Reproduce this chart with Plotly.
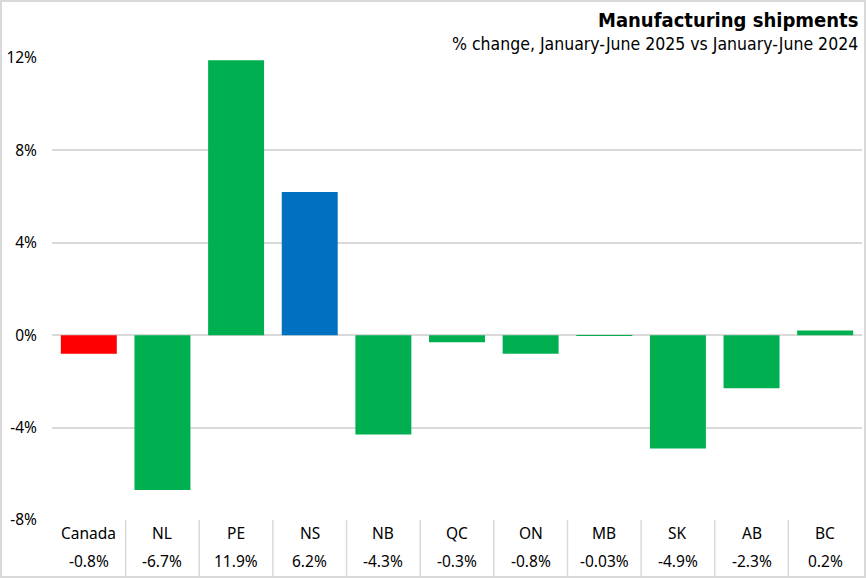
import plotly.graph_objects as go

categories = ["Canada", "NL", "PE", "NS", "NB", "QC", "ON", "MB", "SK", "AB", "BC"]
values = [-0.8, -6.7, 11.9, 6.2, -4.3, -0.3, -0.8, -0.03, -4.9, -2.3, 0.2]
colors = ["#FF0000", "#00B050", "#00B050", "#0070C0", "#00B050", "#00B050",
          "#00B050", "#00B050", "#00B050", "#00B050", "#00B050"]
tick_vals = [-8, -4, 0, 4, 8, 12]
title_text = "Manufacturing shipments"
subtitle_text = "% change, January-June 2025 vs January-June 2024"

W, H = 866, 578
ML, MR, MT, MB_ = 52, 4, 58, 58
PW = W - ML - MR
PH = H - MT - MB_

def fmt(v):
    return f"{v:.2f}%" if abs(v) < 0.1 else f"{v:.1f}%"

xs = list(range(len(categories)))
fig = go.Figure(go.Bar(x=xs, y=values, marker=dict(color=colors, line=dict(width=0)),
                       width=0.76, hoverinfo="skip"))

font_main = "Noto Sans, Open Sans, sans-serif"
font_title = "DejaVu Sans Condensed, Liberation Sans Narrow, Roboto, sans-serif"
anns = []
for i, (c, v) in enumerate(zip(categories, values)):
    anns.append(dict(x=i, y=-(533 - 520) / PH, xref="x", yref="paper", text=c,
                     showarrow=False, yanchor="middle",
                     font=dict(family=font_main, size=15.5, color="#000000")))
    anns.append(dict(x=i, y=-(561 - 520) / PH, xref="x", yref="paper", text=fmt(v),
                     showarrow=False, yanchor="middle",
                     font=dict(family=font_main, size=15.5, color="#000000")))
anns.append(dict(x=(860 - ML) / PW, y=(MT - 20) / PH + 1, xref="paper", yref="paper",
                 text=f"<b>{title_text}</b>", showarrow=False, xanchor="right", yanchor="middle",
                 font=dict(family=font_title, size=20, color="#000000")))
anns.append(dict(x=(860 - ML) / PW, y=(MT - 44) / PH + 1, xref="paper", yref="paper",
                 text=subtitle_text, showarrow=False, xanchor="right", yanchor="middle",
                 font=dict(family=font_title, size=17.5, color="#000000")))

shapes = []
for i in range(len(categories) - 1):
    shapes.append(dict(type="line", xref="x", yref="paper", x0=i + 0.5, x1=i + 0.5,
                       y0=0, y1=-(H - 2 - 520) / PH, line=dict(color="#D9D9D9", width=1.5)))
# outer border
shapes.append(dict(type="rect", xref="paper", yref="paper",
                   x0=-(ML - 1) / PW, x1=1 + (MR - 1) / PW,
                   y0=-(MB_ - 1) / PH, y1=1 + (MT - 1) / PH,
                   line=dict(color="#D9D9D9", width=2), fillcolor="rgba(0,0,0,0)"))

fig.update_layout(
    width=W, height=H, margin=dict(l=ML, r=MR, t=MT, b=MB_),
    paper_bgcolor="white", plot_bgcolor="white", showlegend=False,
    xaxis=dict(range=[-0.5, len(categories) - 0.5], showticklabels=False, showgrid=False,
               zeroline=False, fixedrange=True),
    yaxis=dict(range=[-8, 12], tickvals=tick_vals, ticktext=[f"{t}%" for t in tick_vals],
               showgrid=True, gridcolor="#D9D9D9", gridwidth=1.5, zeroline=True,
               zerolinecolor="#D9D9D9", zerolinewidth=1.5, ticklabelstandoff=14,
               tickfont=dict(family=font_main, size=15.5, color="#000000")),
    annotations=anns, shapes=shapes,
)
fig.write_html("out.html", config={"displayModeBar": False},
               post_script="document.body.style.margin='0';document.body.style.overflow='hidden';")
